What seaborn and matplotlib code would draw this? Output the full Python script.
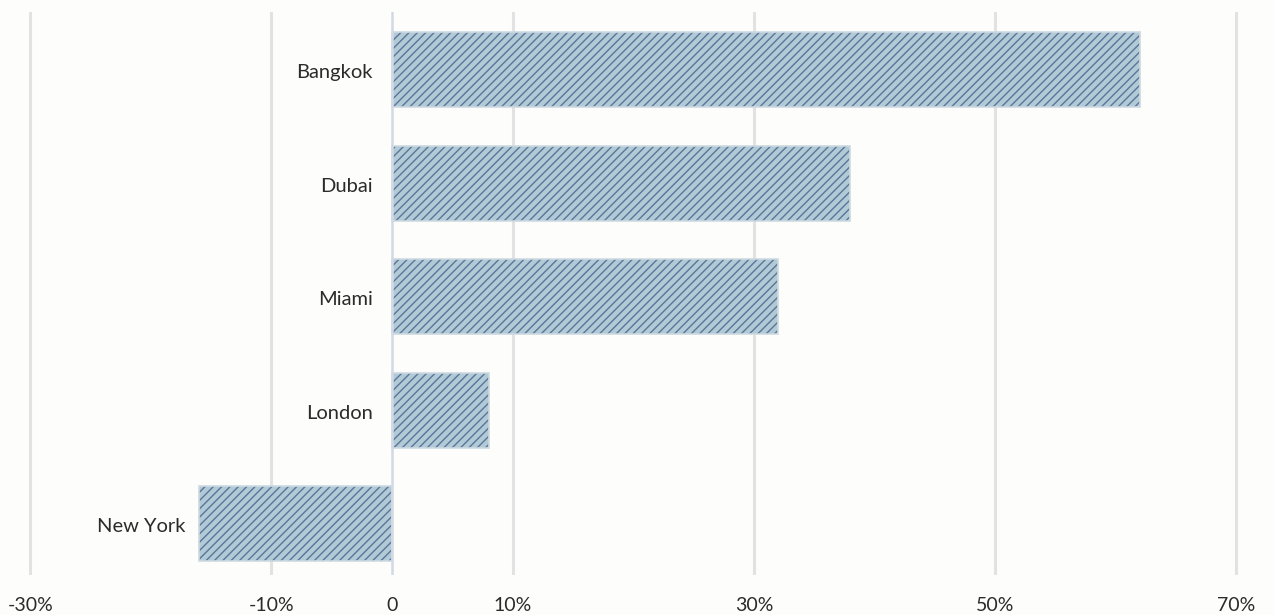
import matplotlib
matplotlib.use("Agg")
import matplotlib.pyplot as plt
import seaborn as sns
import pandas as pd

cities = ["Bangkok", "Dubai", "Miami", "London", "New York"]
growth = [62, 38, 32, 8, -16]
tick_values = [-30, -10, 0, 10, 30, 50, 70]
tick_labels = ["-30%", "-10%", "0", "10%", "30%", "50%", "70%"]

df = pd.DataFrame({"city": cities, "growth": growth})

sns.set_theme(style="white")
plt.rcParams["font.family"] = ["Lato", "DejaVu Sans"]
plt.rcParams["hatch.linewidth"] = 1.0

bg = "#fdfdfb"
fig = plt.figure(figsize=(12.75, 6.15), dpi=100, facecolor=bg)
ax = fig.add_axes([0, 0.065, 1, 0.9155])
ax.set_facecolor(bg)

sns.barplot(data=df, x="growth", y="city", orient="h", ax=ax,
            color="#b1cbd6", width=0.66, saturation=1, zorder=3)
for p in ax.patches:
    p.set_hatch("////")
    p.set_edgecolor("#5f7399")
    p.set_linewidth(0)
    ax.add_patch(plt.Rectangle(p.get_xy(), p.get_width(), p.get_height(),
                               fill=False, edgecolor="#cdd9e2", linewidth=1.2, zorder=4))

ax.set_xlim(-32.5, 73.2)
ax.set_ylim(4.45, -0.51)

for v in tick_values:
    if v == 0:
        continue
    ax.axvline(v, color="#e2e2e2", linewidth=2.2, zorder=1)
ax.axvline(0, color="#d3d9e4", linewidth=1.8, zorder=5)

for i, (c, v) in enumerate(zip(cities, growth)):
    x0 = min(v, 0)
    off = -14 if v >= 0 else -9.5
    ax.annotate(c, xy=(x0, i), xytext=(off, -2), textcoords="offset points",
                ha="right", va="center", fontsize=14.5, color="#2b2b2b")

ax.set_yticks([])
ax.set_xticks(tick_values)
ax.set_xticklabels(tick_labels, fontsize=14, color="#2b2b2b")
ax.tick_params(axis="x", length=0, pad=16)
ax.set_xlabel("")
ax.set_ylabel("")
for s in ax.spines.values():
    s.set_visible(False)

fig.savefig("out.png", dpi=100, facecolor=bg)
